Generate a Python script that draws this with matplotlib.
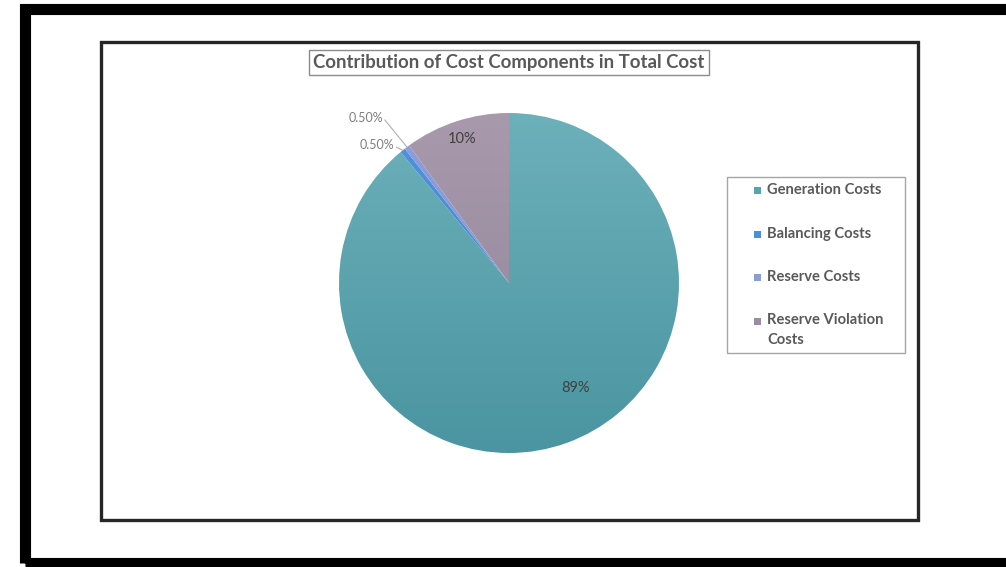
import numpy as np
import matplotlib
matplotlib.use("Agg")
import matplotlib.pyplot as plt
from matplotlib.patches import Rectangle
from matplotlib.colors import LinearSegmentedColormap

# ---- data ----
categories = ["Generation Costs", "Balancing Costs", "Reserve Costs", "Reserve Violation Costs"]
legend_labels = ["Generation Costs", "Balancing Costs", "Reserve Costs", "Reserve Violation\nCosts"]
shares = [89.0, 0.5, 0.5, 10.0]
value_labels = ["89%", "0.50%", "0.50%", "10%"]
title = "Contribution of Cost Components in Total Cost"

# ---- styles ----
top_colors = ["#6cb0ba", "#4f93dc", "#8f9edb", "#a899ac"]
bot_colors = ["#4a95a1", "#3f84cc", "#8190cf", "#918498"]
legend_colors = ["#55a5af", "#4a90d9", "#8d9bd9", "#9c8ca0"]

W, H = 1006, 567
fig = plt.figure(figsize=(W / 100, H / 100), dpi=100)
ax = fig.add_axes([0, 0, 1, 1])

def Y(y):
    return H - y

cx, cy, R = 509, Y(283), 170

wedges, _ = ax.pie(shares, startangle=90, counterclock=False, center=(cx, cy),
                   radius=R, frame=True, wedgeprops=dict(linewidth=0))
ax.set_xlim(0, W)
ax.set_ylim(0, H)
ax.set_autoscale_on(False)
ax.axis("off")

# vertical gradient fill for each wedge
grad = np.linspace(0, 1, 256).reshape(-1, 1)
for w, ct, cb in zip(wedges, top_colors, bot_colors):
    w.set_facecolor("none")
    cmap = LinearSegmentedColormap.from_list("g", [cb, ct])
    im = ax.imshow(grad, extent=(cx - R, cx + R, cy - R, cy + R), origin="lower",
                   cmap=cmap, aspect="auto", zorder=1, interpolation="bilinear")
    im.set_clip_path(w)

def edge_point(w, rfrac=1.0, dang=0.0):
    a = np.deg2rad((w.theta1 + w.theta2) / 2 + dang)
    return cx + R * rfrac * np.cos(a), cy + R * rfrac * np.sin(a)

# big slices: labels inside
x, y = edge_point(wedges[0], 0.73, 12.4)
ax.text(x, y, value_labels[0], ha="center", va="center", fontsize=10.5,
        color="#404040", family="Lato", zorder=5)
x, y = edge_point(wedges[3], 0.89, 0)
ax.text(x, y, value_labels[3], ha="center", va="center", fontsize=10.5,
        color="#404040", family="Lato", zorder=5)

# small slices: labels outside with leader lines
offsets = {1: (-8, 5), 2: (-24, 29)}
for i in (1, 2):
    ex, ey = edge_point(wedges[i], 1.0)
    dx, dy = offsets[i]
    tx, ty = ex + dx, ey + dy
    ax.plot([ex, tx + 2], [ey, ty - 2], color="#b0b0b0", lw=0.8, zorder=4)
    ax.text(tx, ty, value_labels[i], ha="right", va="center", fontsize=9,
            color="#7f7f7f", family="Lato", zorder=5)

# title with box
ax.text(509, Y(62.5), title, ha="center", va="center", fontsize=13.4,
        color="#595959", family="Lato", weight="bold", zorder=5,
        bbox=dict(boxstyle="square,pad=0.22", facecolor="white",
                  edgecolor="#8c8c8c", linewidth=1.0))

# legend box
ax.add_patch(Rectangle((727, Y(353)), 178, 176, facecolor="white",
                       edgecolor="#a6a6a6", linewidth=1.0, zorder=3))
rows = [190, 234, 277, 321]
for lab, col, r in zip(legend_labels, legend_colors, rows):
    ax.add_patch(Rectangle((754, Y(r) - 3.5), 7, 7, facecolor=col,
                           edgecolor="none", zorder=4))
    multi = "\n" in lab
    ax.text(767, Y(r) + (8 if multi else 0), lab, ha="left",
            va="top" if multi else "center",
            fontsize=10.6, color="#595959", family="Lato", weight="bold",
            linespacing=1.55, zorder=5)

# inner chart frame
ax.add_patch(Rectangle((101, Y(520)), 817.5, 478, facecolor="none",
                       edgecolor="#262626", linewidth=2.4, zorder=6))
# outer frame
ax.add_patch(Rectangle((25, Y(563)), 1000, 554, facecolor="none",
                       edgecolor="black", linewidth=8, zorder=6, clip_on=False))

fig.savefig("out.png", dpi=100)
